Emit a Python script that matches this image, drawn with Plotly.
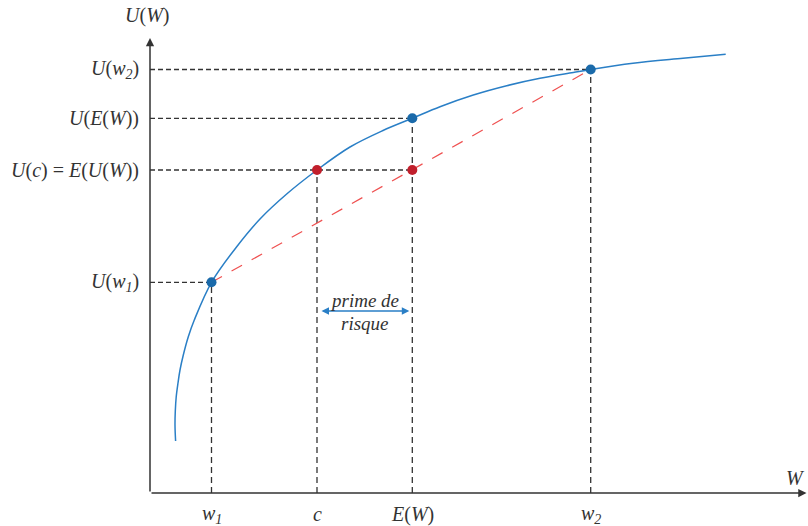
import plotly.graph_objects as go

# ---- data (arbitrary units) ----
curve_w = [0.256, 0.250, 0.253, 0.262, 0.280, 0.30, 0.333, 0.383, 0.443, 0.615, 0.867,
           1.10, 1.367, 1.67, 2.00, 2.33, 2.623, 2.90, 3.233, 3.567, 3.90,
           4.233, 4.407, 4.83, 5.33, 5.757]
curve_u = [0.52, 0.68, 0.82, 0.96, 1.10, 1.23, 1.38, 1.563, 1.73, 2.107, 2.463,
           2.74, 2.99, 3.23, 3.46, 3.625, 3.747, 3.863, 3.98, 4.073, 4.147,
           4.205, 4.235, 4.297, 4.347, 4.387]

w_names = ["w1", "c", "EW", "w2"]
w_vals = [0.615, 1.67, 2.623, 4.407]
u_names = ["Uw1", "Uc", "UEW", "Uw2"]
u_vals = [2.107, 3.23, 3.747, 4.235]

x_labels = ["<i>w</i><sub><i>1</i></sub>", "<i>c</i>", "<i>E</i>(<i>W</i>)", "<i>w</i><sub><i>2</i></sub>"]
y_labels = ["<i>U</i>(<i>w</i><sub><i>1</i></sub>)", "<i>U</i>(<i>c</i>) = <i>E</i>(<i>U</i>(<i>W</i>))",
            "<i>U</i>(<i>E</i>(<i>W</i>))", "<i>U</i>(<i>w</i><sub><i>2</i></sub>)"]

x_range = [0, 6.58]
y_range = [0, 4.56]
x_tip, y_tip = 6.565, 4.55

w1, c, EW, w2 = w_vals
Uw1, Uc, UEW, Uw2 = u_vals

DARK = "#333333"
BLUE_LINE = "#2a7fc6"
BLUE_PT = "#1a6aaa"
RED_PT = "#c11f2c"
RED_LINE = "#ef5050"
FONT = "Liberation Serif"

fig = go.Figure()

# guide dashed lines: horizontal (y axis -> point) and vertical (x axis -> point)
h_ends = [(Uw1, w1), (Uc, EW), (UEW, EW), (Uw2, w2)]
for u, xe in h_ends:
    fig.add_trace(go.Scatter(x=[0, xe], y=[u, u], mode="lines",
                             line=dict(color=DARK, width=1.3, dash="5px,3px"),
                             hoverinfo="skip"))
v_ends = [(w1, Uw1), (c, Uc), (EW, UEW), (w2, Uw2)]
for w, ue in v_ends:
    fig.add_trace(go.Scatter(x=[w, w], y=[0, ue], mode="lines",
                             line=dict(color=DARK, width=1.3, dash="6px,4px"),
                             hoverinfo="skip"))

# chord (red dashed)
fig.add_trace(go.Scatter(x=[w1, w2], y=[Uw1, Uw2], mode="lines",
                         line=dict(color=RED_LINE, width=1.2, dash="12px,11px"),
                         hoverinfo="skip"))

# utility curve
fig.add_trace(go.Scatter(x=curve_w, y=curve_u, mode="lines",
                         line=dict(color=BLUE_LINE, width=1.5, shape="spline", smoothing=1.0),
                         hoverinfo="skip"))

# points
fig.add_trace(go.Scatter(x=[w1, EW, w2], y=[Uw1, UEW, Uw2], mode="markers",
                         marker=dict(color=BLUE_PT, size=10), hoverinfo="skip"))
fig.add_trace(go.Scatter(x=[c, EW], y=[Uc, Uc], mode="markers",
                         marker=dict(color=RED_PT, size=10), hoverinfo="skip"))

ann = []
# axes with arrows
ann.append(dict(x=x_tip, y=0, ax=0, ay=0, xref="x", yref="y", axref="x", ayref="y",
                text="", showarrow=True, arrowhead=2, arrowsize=1.1, arrowwidth=1.5,
                arrowcolor=DARK, standoff=0))
ann.append(dict(x=0, y=y_tip, ax=0, ay=0, xref="x", yref="y", axref="x", ayref="y",
                text="", showarrow=True, arrowhead=2, arrowsize=1.1, arrowwidth=1.5,
                arrowcolor=DARK, standoff=0))

tfont = dict(family=FONT, size=20, color=DARK)
ann.append(dict(x=0, y=y_range[1], xref="x", yref="y", text="<i>U</i>(<i>W</i>)",
                showarrow=False, font=tfont, xanchor="center", yanchor="middle",
                xshift=-3, yshift=22))
ann.append(dict(x=6.45, y=0.15, xref="x", yref="y", text="<i>W</i>",
                showarrow=False, font=tfont, xanchor="center", yanchor="middle"))

for lab, u in zip(y_labels, u_vals):
    ann.append(dict(x=0, y=u, xref="x", yref="y", text=lab, showarrow=False,
                    font=tfont, xanchor="right", yanchor="middle", xshift=-9))
for lab, w in zip(x_labels, w_vals):
    ann.append(dict(x=w, y=0, xref="x", yref="y", text=lab, showarrow=False,
                    font=tfont, xanchor="center", yanchor="middle", yshift=-21))

# risk premium
mid = (c + EW) / 2
ann.append(dict(x=EW, y=1.82, ax=c, ay=1.82, xref="x", yref="y", axref="x", ayref="y",
                text="", showarrow=True, arrowhead=2, startarrowhead=2, arrowside="end+start",
                arrowsize=1.0, startarrowsize=1.0, arrowwidth=1.5, arrowcolor=BLUE_LINE,
                standoff=3, startstandoff=3))
pfont = dict(family=FONT, size=19, color=DARK)
ann.append(dict(x=mid, y=1.93, xref="x", yref="y", text="<i>prime de</i>", showarrow=False,
                font=pfont, xanchor="center", yanchor="middle"))
ann.append(dict(x=mid, y=1.70, xref="x", yref="y", text="<i>risque</i>", showarrow=False,
                font=pfont, xanchor="center", yanchor="middle"))

fig.update_layout(
    width=808, height=526,
    margin=dict(l=150, r=0, t=37, b=33),
    paper_bgcolor="white", plot_bgcolor="white",
    showlegend=False,
    hovermode=False,
    xaxis=dict(range=x_range, visible=False, fixedrange=True),
    yaxis=dict(range=y_range, visible=False, fixedrange=True),
    annotations=ann,
)

fig.write_html("out.html", config={"displayModeBar": False, "staticPlot": True},
               post_script="document.body.style.margin='0';document.body.style.overflow='hidden';")
